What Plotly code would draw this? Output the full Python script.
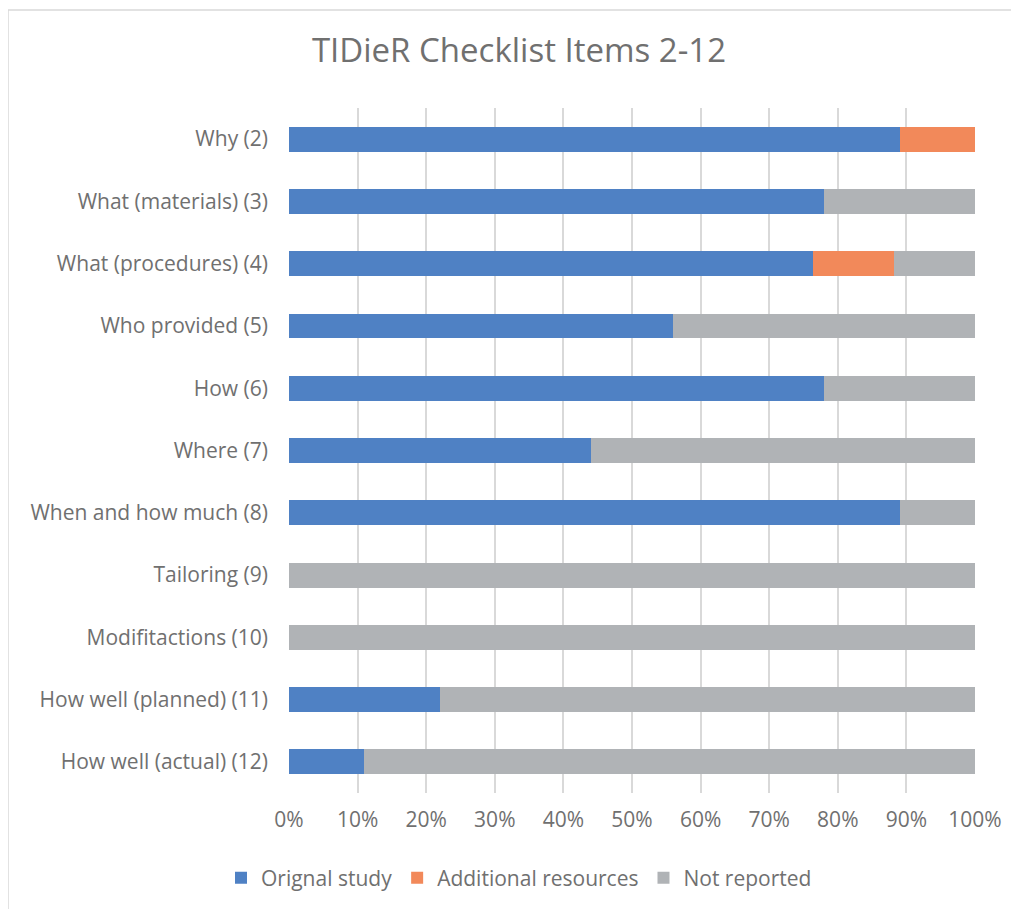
import plotly.graph_objects as go

categories = ["Why (2)", "What (materials) (3)", "What (procedures) (4)", "Who provided (5)",
              "How (6)", "Where (7)", "When and how much (8)", "Tailoring (9)",
              "Modifitactions (10)", "How well (planned) (11)", "How well (actual) (12)"]
original = [89.1, 78, 76.4, 56, 78, 44, 89, 0, 0, 22, 11]
additional = [10.9, 0, 11.8, 0, 0, 0, 0, 0, 0, 0, 0]
not_reported = [0, 22, 11.8, 44, 22, 56, 11, 100, 100, 78, 89]
tick_vals = [0, 10, 20, 30, 40, 50, 60, 70, 80, 90, 100]
tick_text = [f"{v}%" for v in tick_vals]

OFF = 8  # browser body margin
W, H = 1019 - OFF, 909 - OFF
L, R, T, B = 289 - OFF, 975 - OFF, 108 - OFF, 793 - OFF
font = "Open Sans"
txt = "#707070"
fs = 21

fig = go.Figure()
for name, vals, col in [("Orignal study", original, "#4F81C4"),
                        ("Additional resources", additional, "#F2895A"),
                        ("Not reported", not_reported, "#B0B3B6")]:
    fig.add_trace(go.Bar(y=categories, x=vals, name=name, orientation="h",
                         marker=dict(color=col, line=dict(width=0))))

pw = R - L
ph = B - T
fig.update_layout(
    width=W, height=H, barmode="stack", bargap=0.6,
    margin=dict(l=L, r=W - R, t=T, b=H - B, autoexpand=False),
    paper_bgcolor="white", plot_bgcolor="white",
    font=dict(family=font, color=txt, size=fs),
    title=dict(text="TIDieR Checklist Items 2-12", x=(519 - OFF) / W, xanchor="center",
               y=1 - (50 - OFF) / H, yanchor="middle", font=dict(size=33, color=txt, family=font)),
    xaxis=dict(range=[0, 100], tickvals=tick_vals, ticktext=tick_text, showgrid=True,
               gridcolor="#D9D9D9", gridwidth=1.5, zeroline=False, showline=False,
               ticks="", ticklen=0, tickfont=dict(size=fs, color=txt), fixedrange=True,
               ticklabelstandoff=12),
    yaxis=dict(categoryorder="array", categoryarray=categories[::-1], showgrid=False,
               ticks="", showline=False, tickfont=dict(size=fs, color=txt), ticklabelstandoff=20),
    legend=dict(orientation="h", x=(519 - 289) / pw, xanchor="center", y=-(878 - 793) / ph,
                yanchor="middle", font=dict(size=fs, color=txt), itemwidth=30,
                traceorder="normal"),
    showlegend=True,
)
fig.add_shape(type="rect", xref="paper", yref="paper",
              x0=(8 - 289) / pw, x1=(1040 - 289) / pw, y0=-(940 - 793) / ph, y1=1 + (108 - 10) / ph,
              line=dict(color="#D9D9D9", width=1.5), fillcolor="rgba(0,0,0,0)", layer="below")
fig.write_html("out.html")
